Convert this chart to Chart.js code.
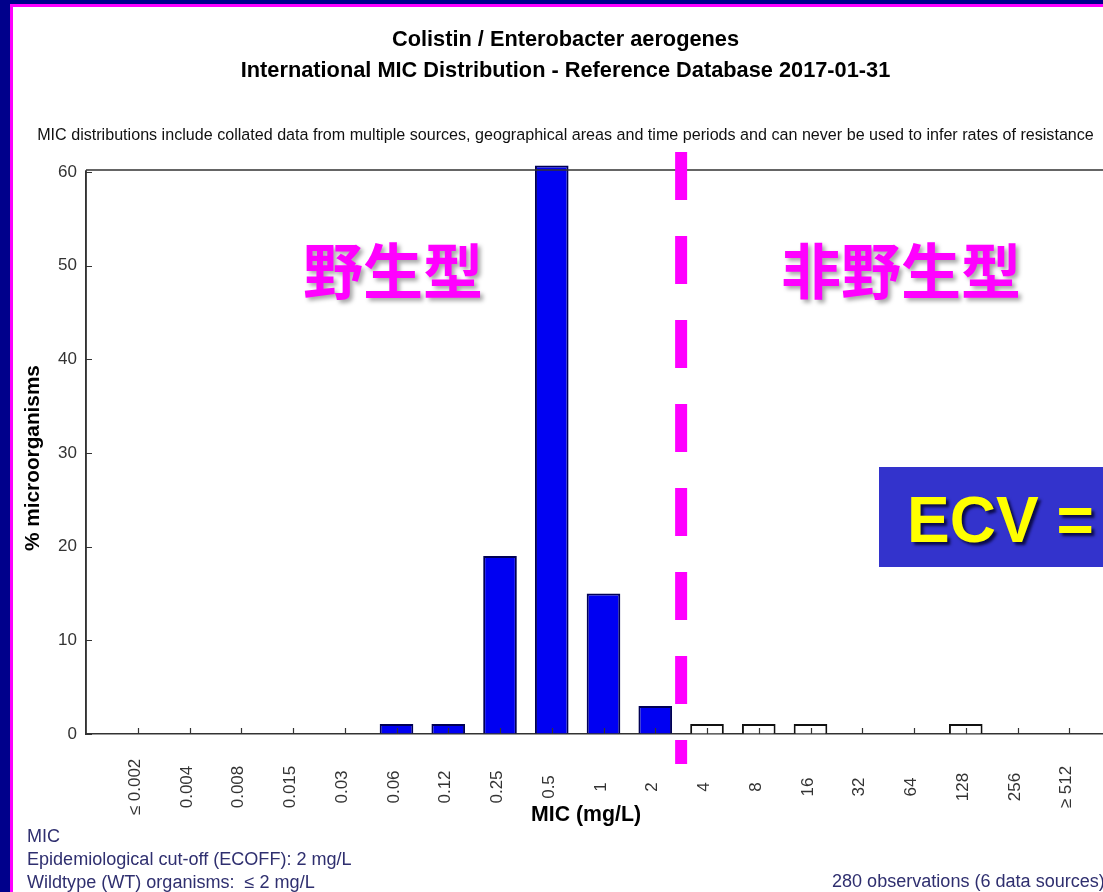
<!DOCTYPE html>
<html>
<head>
<meta charset="utf-8">
<title>Colistin / Enterobacter aerogenes – MIC distribution</title>
<script src="https://cdn.jsdelivr.net/npm/chart.js@4.4.1/dist/chart.umd.min.js"></script>
<style>
  html, body { margin: 0; padding: 0; width: 1103px; height: 892px; overflow: hidden; background: #00008b; }
  #sheet { position: absolute; left: 10px; top: 4px; width: 1200px; height: 1000px; background: #ffffff;
           border-left: 3px solid #ff00ff; border-top: 3px solid #ff00ff; }
  #chart { position: absolute; left: 0; top: 0; }
</style>
</head>
<body>
<div id="sheet"></div>
<canvas id="chart" width="1150" height="892"></canvas>
<script>
// MIC classes (mg/L)
const micLabels = ['≤ 0.002', '0.004', '0.008', '0.015', '0.03', '0.06', '0.12', '0.25',
                   '0.5', '1', '2', '4', '8', '16', '32', '64', '128', '256', '≥ 512'];
// % of organisms at or below the ECOFF (wildtype)
const wildtypePct = [0, 0, 0, 0, 0, 1.07, 1.07, 19.0, 60.7, 15.0, 3.0,
                     null, null, null, null, null, null, null, null];
// % of organisms above the ECOFF (non-wildtype)
const nonWildtypePct = [null, null, null, null, null, null, null, null, null, null, null,
                        1.07, 1.07, 1.07, 0, 0, 1.07, 0, 0];
// y-axis tick values (%)
const yTicks = [0, 10, 20, 30, 40, 50, 60];

const titleLines = ['Colistin / Enterobacter aerogenes',
                    'International MIC Distribution - Reference Database 2017-01-31'];
const disclaimer = 'MIC distributions include collated data from multiple sources, geographical areas and time periods and can never be used to infer rates of resistance';
const notes = ['MIC', 'Epidemiological cut-off (ECOFF): 2 mg/L', 'Wildtype (WT) organisms:  ≤ 2 mg/L'];
const observations = '280 observations (6 data sources)';
const wtLabel = '野生型';
const nonWtLabel = '非野生型';
const ecvLabel = 'ECV =';

const FAMILY = "'Liberation Sans', Arial, sans-serif";
const CJK = "'Noto Sans CJK SC', 'Noto Sans CJK JP', sans-serif";

// font size that makes a string span a given width
function fitSize(text, weight, family, width) {
  const c = document.createElement('canvas').getContext('2d');
  c.font = weight + ' 100px ' + family;
  return 100 * width / c.measureText(text).width;
}

const titleSize = fitSize(titleLines[1], 'bold', FAMILY, 650);
const subSize = fitSize(disclaimer, 'normal', FAMILY, 1057);
const noteSize = fitSize(notes[1], 'normal', FAMILY, 325);
const obsSize = fitSize(observations, 'normal', FAMILY, 273);
const xTitleSize = fitSize('MIC (mg/L)', 'bold', FAMILY, 110);
const yTitleSize = fitSize('% microorganisms', 'bold', FAMILY, 186);

// category axis: an empty slot at each end keeps the classes off the axes
const categories = [''].concat(micLabels, ['']);
const pad = arr => [null].concat(arr, [null]);

const decorations = {
  id: 'decorations',
  afterDraw(chart) {
    const { ctx, chartArea: a, scales: { x, y } } = chart;
    ctx.save();

    // plot frame: top edge and y axis line
    ctx.strokeStyle = '#333333';
    ctx.lineWidth = 1.5;
    ctx.beginPath();
    ctx.moveTo(a.left, a.top - 2);
    ctx.lineTo(a.right, a.top - 2);
    ctx.moveTo(a.left, a.top - 2);
    ctx.lineTo(a.left, a.bottom);
    ctx.stroke();

    // inward tick marks
    ctx.lineWidth = 1.2;
    ctx.beginPath();
    for (let i = 1; i <= micLabels.length; i++) {
      const px = Math.round(x.getPixelForValue(i)) + 0.5;
      ctx.moveTo(px, a.bottom);
      ctx.lineTo(px, a.bottom - 6);
    }
    yTicks.forEach(v => {
      const py = Math.round(y.getPixelForValue(v)) + 0.5;
      ctx.moveTo(a.left, py);
      ctx.lineTo(a.left + 6, py);
    });
    ctx.stroke();

    // vertical MIC class labels
    ctx.fillStyle = '#333333';
    ctx.font = '17px ' + FAMILY;
    ctx.textAlign = 'center';
    ctx.textBaseline = 'alphabetic';
    micLabels.forEach((lab, i) => {
      const px = x.getPixelForValue(i + 1);
      ctx.save();
      ctx.translate(px + 2, 787);
      ctx.rotate(-Math.PI / 2);
      ctx.fillText(lab, 0, 0);
      ctx.restore();
    });

    // axis titles
    ctx.fillStyle = '#000000';
    ctx.font = 'bold ' + xTitleSize + 'px ' + FAMILY;
    ctx.textBaseline = 'middle';
    ctx.fillText('MIC (mg/L)', 586, 815);
    ctx.save();
    ctx.translate(33, 458);
    ctx.rotate(-Math.PI / 2);
    ctx.font = 'bold ' + yTitleSize + 'px ' + FAMILY;
    ctx.fillText('% microorganisms', 0, 0);
    ctx.restore();

    // footnotes
    ctx.fillStyle = '#2f2f6f';
    ctx.textAlign = 'left';
    ctx.textBaseline = 'alphabetic';
    ctx.font = noteSize + 'px ' + FAMILY;
    notes.forEach((t, i) => ctx.fillText(t, 27, 842 + i * 23));
    ctx.font = obsSize + 'px ' + FAMILY;
    ctx.fillText(observations, 832, 887);

    // wildtype / non-wildtype headings
    ctx.save();
    ctx.shadowColor = 'rgba(0,0,0,0.35)';
    ctx.shadowOffsetX = 3;
    ctx.shadowOffsetY = 3;
    ctx.shadowBlur = 4;
    ctx.fillStyle = '#ff00ff';
    ctx.font = 'bold 60px ' + CJK;
    ctx.textAlign = 'center';
    ctx.textBaseline = 'middle';
    ctx.fillText(wtLabel, 393, 271);
    ctx.fillText(nonWtLabel, 901, 271);
    ctx.restore();

    // ECV call-out
    ctx.fillStyle = '#3333cc';
    ctx.fillRect(879, 467, 300, 100);
    ctx.save();
    ctx.shadowColor = 'rgba(0,0,40,0.8)';
    ctx.shadowOffsetX = 3;
    ctx.shadowOffsetY = 3;
    ctx.shadowBlur = 3;
    ctx.fillStyle = '#ffff00';
    ctx.font = 'bold 64px ' + FAMILY;
    ctx.textAlign = 'left';
    ctx.textBaseline = 'alphabetic';
    ctx.fillText(ecvLabel, 907, 542);
    ctx.restore();

    // ECOFF cut line between 2 and 4 mg/L
    const cut = x.getPixelForValue(11.5);
    ctx.strokeStyle = '#ff00ff';
    ctx.lineWidth = 12;
    ctx.setLineDash([48, 36]);
    ctx.beginPath();
    ctx.moveTo(cut, 152);
    ctx.lineTo(cut, 764);
    ctx.stroke();

    ctx.restore();
  }
};

new Chart(document.getElementById('chart'), {
  type: 'bar',
  data: {
    labels: categories,
    datasets: [
      {
        label: 'WT',
        data: pad(wildtypePct),
        backgroundColor: '#0000f2',
        borderColor: '#000055',
        borderWidth: 2,
        grouped: false,
        clip: false
      },
      {
        label: 'non-WT',
        data: pad(nonWildtypePct),
        backgroundColor: '#ffffff',
        borderColor: '#111111',
        borderWidth: 2,
        grouped: false,
        clip: false
      }
    ]
  },
  options: {
    responsive: false,
    animation: false,
    events: [],
    categoryPercentage: 1,
    barPercentage: 0.65,
    layout: { padding: { top: 4, left: 10, right: 29, bottom: 0 } },
    plugins: {
      legend: { display: false },
      tooltip: { enabled: false },
      title: {
        display: true,
        text: titleLines,
        color: '#000000',
        font: { family: FAMILY, size: titleSize, weight: 'bold', lineHeight: '31px' },
        padding: { top: 20.5, bottom: 0 }
      },
      subtitle: {
        display: true,
        text: disclaimer,
        color: '#111111',
        font: { family: FAMILY, size: subSize, weight: 'normal', lineHeight: '20px' },
        padding: { top: 39.5, bottom: 26 }
      }
    },
    scales: {
      x: {
        type: 'category',
        offset: false,
        grid: { display: true, drawOnChartArea: false, drawTicks: false },
        border: { display: true, color: '#333333', width: 1.5 },
        ticks: { display: false },
        afterFit: s => { s.height = 158; }
      },
      y: {
        min: 0,
        max: 60,
        grid: { display: true, drawOnChartArea: false, drawTicks: false },
        border: { display: true, color: '#333333', width: 1.5 },
        ticks: { color: '#333333', padding: 9, font: { family: FAMILY, size: 17 } },
        afterBuildTicks: s => { s.ticks = yTicks.map(v => ({ value: v })); },
        afterFit: s => { s.width = 76; }
      }
    }
  },
  plugins: [decorations]
});
</script>
</body>
</html>
